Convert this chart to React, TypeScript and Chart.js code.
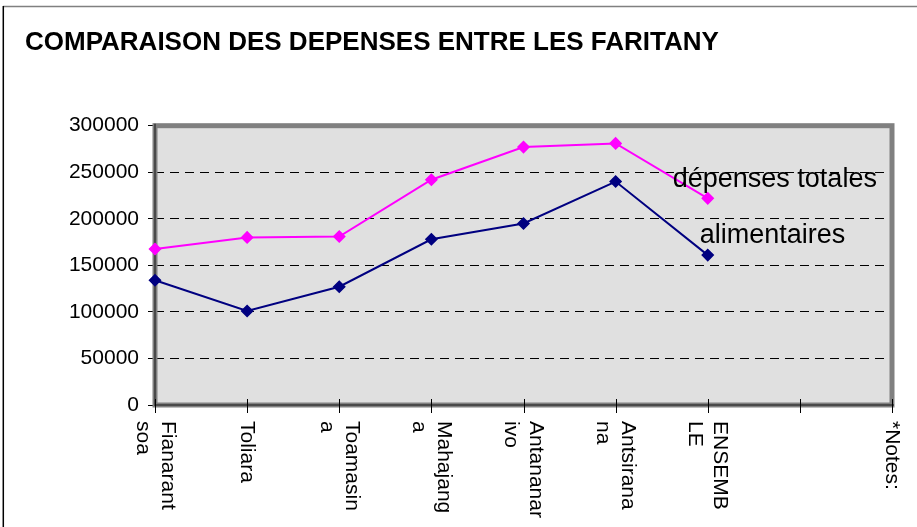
import React, { useEffect, useRef } from "react";
import { Chart, registerables } from "chart.js";

Chart.register(...registerables);

const TITLE = "COMPARAISON DES DEPENSES ENTRE LES FARITANY";

// Category tick labels, as wrapped in the picture
const xTickLabels: string[][] = [
  ["Fianarant", "soa"],
  ["Toliara"],
  ["Toamasin", "a"],
  ["Mahajang", "a"],
  ["Antananar", "ivo"],
  ["Antsirana", "na"],
  ["ENSEMB", "LE"],
  [""],
  ["*Notes:"],
];

const seriesNames = ["dépenses totales", "alimentaires"];

const depensesTotales: (number | null)[] = [
  167500, 180000, 181000, 242000, 277000, 281000, 222000, null, null,
];
const alimentaires: (number | null)[] = [
  134000, 101000, 127000, 178000, 195000, 240000, 161000, null, null,
];

const yMin = 0;
const yMax = 300000;
const yStep = 50000;

const FONT = "'Liberation Sans', Arial, sans-serif";

const framePlugin = {
  id: "frame",
  beforeDraw(chart: any) {
    const { ctx, chartArea: a, width, height } = chart;
    ctx.save();
    ctx.fillStyle = "#ffffff";
    ctx.fillRect(0, 0, width, height);
    // outer chart border
    ctx.lineWidth = 1.5;
    ctx.strokeStyle = "#808080";
    ctx.beginPath();
    ctx.moveTo(3, 6.5);
    ctx.lineTo(width, 6.5);
    ctx.stroke();
    ctx.strokeStyle = "#000000";
    ctx.beginPath();
    ctx.moveTo(3.3, 6);
    ctx.lineTo(3.3, height);
    ctx.stroke();
    // plot background
    ctx.fillStyle = "#e0e0e0";
    ctx.fillRect(a.left, a.top, a.right - a.left, a.bottom - a.top);
    ctx.restore();
  },
  beforeDatasetsDraw(chart: any) {
    const { ctx, chartArea: a } = chart;
    ctx.save();
    ctx.setLineDash([]);
    ctx.lineWidth = 5;
    ctx.strokeStyle = "#808080";
    ctx.strokeRect(a.left, a.top, a.right - a.left, a.bottom - a.top);
    ctx.lineWidth = 2;
    ctx.strokeStyle = "#4a4a4a";
    ctx.beginPath();
    ctx.moveTo(a.left, a.top - 2);
    ctx.lineTo(a.left, a.bottom);
    ctx.lineTo(a.right + 2, a.bottom);
    ctx.stroke();
    // x tick marks crossing the axis
    const xs = chart.scales.x;
    ctx.lineWidth = 1;
    ctx.strokeStyle = "#000000";
    for (let i = 0; i < xs.ticks.length; i++) {
      const x = Math.round(xs.getPixelForTick(i)) + 0.5;
      ctx.beginPath();
      ctx.moveTo(x, a.bottom - 6);
      ctx.lineTo(x, a.bottom + 8);
      ctx.stroke();
    }
    ctx.restore();
  },
  afterDraw(chart: any) {
    const { ctx, chartArea: a } = chart;
    const xs = chart.scales.x;
    ctx.save();
    // rotated category labels (reading top to bottom)
    ctx.fillStyle = "#000000";
    ctx.font = `21px ${FONT}`;
    ctx.textAlign = "left";
    ctx.textBaseline = "middle";
    const lh = 25;
    const labels = chart.data.labels as string[][];
    labels.forEach((lines, i) => {
      const x = xs.getPixelForValue(i);
      const n = lines.length;
      lines.forEach((line, j) => {
        const off = ((n - 1) / 2 - j) * lh;
        ctx.save();
        ctx.translate(x + off, a.bottom + 16);
        ctx.rotate(Math.PI / 2);
        ctx.fillText(line, 0, 0);
        ctx.restore();
      });
    });
    ctx.restore();
  },
  afterDatasetsDraw(chart: any) {
    const { ctx } = chart;
    ctx.save();
    ctx.fillStyle = "#000000";
    ctx.font = `27px ${FONT}`;
    ctx.textAlign = "left";
    ctx.textBaseline = "alphabetic";
    const offsets = [
      [-35, -11],
      [-8, -12.5],
    ];
    chart.data.datasets.forEach((ds: any, di: number) => {
      const meta = chart.getDatasetMeta(di);
      let last = -1;
      ds.data.forEach((v: any, k: number) => {
        if (v !== null) last = k;
      });
      if (last < 0) return;
      const p = meta.data[last];
      ctx.fillText(ds.label, p.x + offsets[di][0], p.y + offsets[di][1]);
    });
    ctx.restore();
  },
};

export default function App() {
  const ref = useRef<HTMLCanvasElement | null>(null);

  useEffect(() => {
    document.body.style.margin = "0";
    const canvas = ref.current;
    if (!canvas) return;
    const chart = new Chart(canvas, {
      type: "line",
      data: {
        labels: xTickLabels as any,
        datasets: [
          {
            label: seriesNames[0],
            data: depensesTotales,
            borderColor: "#ff00ff",
            backgroundColor: "#ff00ff",
            borderWidth: 2,
            pointStyle: "rectRot",
            pointRadius: 5.5,
            pointBorderWidth: 1.5,
            pointBackgroundColor: "#ff00ff",
            pointBorderColor: "#ff00ff",
            tension: 0,
            spanGaps: false,
          },
          {
            label: seriesNames[1],
            data: alimentaires,
            borderColor: "#000080",
            backgroundColor: "#000080",
            borderWidth: 2,
            pointStyle: "rectRot",
            pointRadius: 5.5,
            pointBorderWidth: 1.5,
            pointBackgroundColor: "#000080",
            pointBorderColor: "#000080",
            tension: 0,
            spanGaps: false,
          },
        ],
      },
      options: {
        animation: false,
        responsive: false,
        maintainAspectRatio: false,
        devicePixelRatio: 1,
        layout: { padding: { left: 25, right: 25, top: 0, bottom: 0 } },
        plugins: {
          legend: { display: false },
          tooltip: { enabled: false },
          title: {
            display: true,
            text: TITLE,
            align: "start",
            color: "#000000",
            font: { family: FONT, size: 26, weight: "bold" },
            padding: { top: 27, bottom: 67.5 },
          },
        },
        scales: {
          x: {
            type: "category",
            offset: false,
            grid: { display: false },
            border: { display: false },
            ticks: { display: false },
            afterFit: (s: any) => {
              s.height = 122;
            },
          },
          y: {
            min: yMin,
            max: yMax,
            border: { display: false, dash: [9, 6] },
            grid: {
              color: (c: any) =>
                c.tick && (c.tick.value === yMin || c.tick.value === yMax)
                  ? "rgba(0,0,0,0)"
                  : "#000000",
              tickColor: "#000000",
              tickLength: 7,
              lineWidth: 1,
            },
            ticks: {
              stepSize: yStep,
              color: "#000000",
              padding: 9,
              font: { family: FONT, size: 21 },
              callback: (v: any) => String(v),
            },
            afterFit: (s: any) => {
              s.width = 130;
            },
          },
        },
      },
      plugins: [framePlugin],
    });
    return () => chart.destroy();
  }, []);

  return (
    <div style={{ position: "absolute", left: 0, top: 0, width: 917, height: 527 }}>
      <canvas ref={ref} width={917} height={527} style={{ width: 917, height: 527, display: "block" }} />
    </div>
  );
}
